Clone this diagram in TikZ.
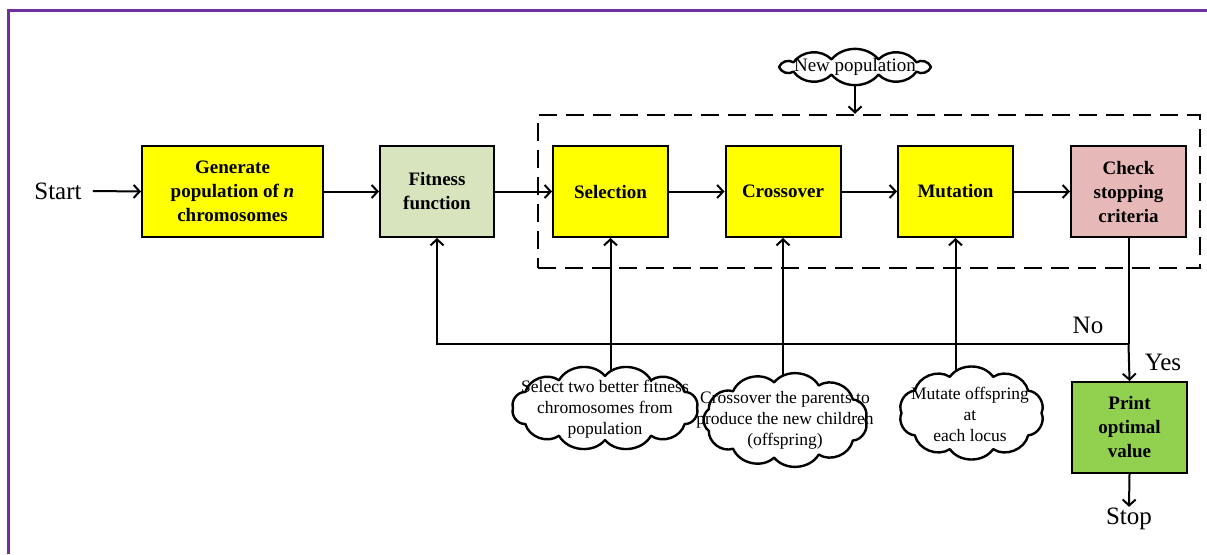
\documentclass[tikz,border=0pt]{standalone}
\usepackage{fontspec}
\setmainfont{Liberation Serif}
\usetikzlibrary{arrows.meta,shapes.geometric,calc,backgrounds}
\definecolor{boxyellow}{HTML}{FFFF00}
\definecolor{fitgreen}{HTML}{D7E4BD}
\definecolor{checkpink}{HTML}{E6B9B8}
\definecolor{printgreen}{HTML}{92D050}
\definecolor{framepurple}{HTML}{7030A0}
\tikzset{
  procbox/.style={draw=black, line width=2pt, minimum width=115pt, minimum height=91pt,
    align=center, font=\fontsize{19}{24}\selectfont\bfseries, inner sep=2pt},
  cloudline/.style={draw=black, line width=2.4pt, fill=white, line join=round},
  cloudtext/.style={align=center, font=\fontsize{17.5}{21}\selectfont, inner sep=0pt},
  bigtext/.style={font=\fontsize{25}{28}\selectfont, inner sep=1pt},
  conn/.style={line width=2pt, -{Straight Barb[length=6pt,width=13pt,line width=2pt]}},
  plainline/.style={line width=2pt},
}
% name, x, y, rx, ry, puffs, bend
\newcommand\mycloud[7]{%
  \node[ellipse, draw=none, inner sep=0pt, minimum width={2*#4pt}, minimum height={2*#5pt}] (#1) at (#2,#3) {};
  \draw[cloudline] (#2,#3) ++(0:#4 and #5)
    \foreach \i in {1,...,#6}{ to[bend left=#7] ($(#2,#3)+(\i*360/#6:#4 and #5)$) } -- cycle;
}
\begin{document}
\begin{tikzpicture}[x=1pt,y=-1pt]
\useasboundingbox (0,0) rectangle (1207,554);
% frame
\draw[framepurple, line width=3pt] (8,554) -- (8,10) -- (1207,10);
% dashed group
\node[draw=black, line width=2.5pt, dash pattern=on 18pt off 9pt, minimum width=662pt, minimum height=153pt, inner sep=0pt] (grp) at (869,191.5) {};
% boxes
\node[procbox, fill=boxyellow, minimum width=181pt] (gen) at (232.5,191.5) {Generate\\population of \textit{n}\\chromosomes};
\node[procbox, fill=fitgreen, minimum width=114pt] (fit) at (437,191.5) {Fitness\\function};
\node[procbox, fill=boxyellow] (sel) at (610.5,191.5) {Selection};
\node[procbox, fill=boxyellow] (cro) at (783,191.5) {Crossover};
\node[procbox, fill=boxyellow] (mut) at (955.5,191.5) {Mutation};
\node[procbox, fill=checkpink] (chk) at (1128.5,191.5) {Check\\stopping\\criteria};
\node[procbox, fill=printgreen] (prt) at (1129.5,427.5) {Print\\optimal\\value};
% texts
\node[bigtext] (start) at (58,191) {Start};
\node[bigtext] (stop) at (1129,519) {Stop};
\node[bigtext] (no) at (1088,325) {No};
\node[bigtext] (yes) at (1163,362) {Yes};
% clouds
\mycloud{npc}{855}{67}{76}{8}{10}{50}
\node[cloudtext, font=\fontsize{19}{21}\selectfont] (npt) at (855,67) {New population};
\mycloud{c1}{605}{408}{92}{32}{12}{55}
\node[cloudtext] (t1) at (605,409) {Select two better fitness\\chromosomes from\\population};
\mycloud{c2}{785.5}{420}{80}{38}{11}{55}
\node[cloudtext] (t2) at (785,420) {Crossover the parents to\\produce the new children\\(offspring)};
\mycloud{c3}{971.5}{413}{70}{38}{10}{55}
\node[cloudtext] (t3) at (970,414) {Mutate offspring\\at\\each locus};
% connectors
\coordinate (s0) at ($(start.east)+(10pt,0)$);
\draw[conn] (s0) -- (gen.west);
\draw[conn] (gen.east) -- (fit.west);
\draw[conn] (fit.east) -- (sel.west);
\draw[conn] (sel.east) -- (cro.west);
\draw[conn] (cro.east) -- (mut.west);
\draw[conn] (mut.east) -- (chk.west);
\coordinate (j) at (chk.south |- 0,344);
\draw[plainline] (chk.south) -- (j);
\draw[conn] (j) -- (prt.north);
\draw[conn] (j) -| (fit.south);
\draw[conn] (prt.south) -- (stop.north);
\begin{scope}[on background layer]
\draw[conn] (npc.center) -- (npc.south |- grp.north);
\draw[conn] (c1.center -| sel.south) -- (sel.south);
\draw[conn] (c2.center -| cro.south) -- (cro.south);
\draw[conn] (c3.center -| mut.south) -- (mut.south);
\end{scope}
\end{tikzpicture}
\end{document}
